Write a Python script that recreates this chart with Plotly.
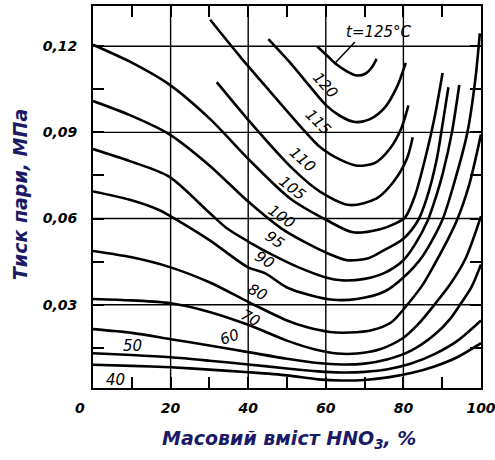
import plotly.graph_objects as go

# ---- data (mass % HNO3 vs vapour pressure, MPa) ----
temps = ["125", "120", "115", "110", "105", "100", "95", "90", "80", "70", "60", "50", "40"]

x125 = [57.8, 60.5, 62.8, 65.5, 68.0, 70.3, 71.8, 73.1]
p125 = [0.1199, 0.1165, 0.1136, 0.1112, 0.1098, 0.1105, 0.1125, 0.1156]

x120 = [45.2, 50.8, 55.9, 60.1, 63.7, 67.5, 71.4, 75.3, 78.4, 80.6]
p120 = [0.1225, 0.1143, 0.1060, 0.0994, 0.0957, 0.0936, 0.0946, 0.0988, 0.1060, 0.1142]

x115 = [30.2, 37.9, 45.6, 53.4, 58.5, 63.7, 68.0, 72.7, 76.5, 79.4, 81.3]
p115 = [0.1292, 0.1164, 0.1043, 0.0922, 0.0849, 0.0805, 0.0784, 0.0794, 0.0843, 0.0912, 0.0994]

x110 = [31.9, 40.5, 51.5, 58.5, 66.2, 73.1, 77.4, 80.9, 82.4]
p110 = [0.1075, 0.0936, 0.0773, 0.0694, 0.0647, 0.0670, 0.0727, 0.0808, 0.0883]

x105 = [0, 9.5, 19.6, 30.2, 40, 50.8, 60.3, 67, 74, 78, 80.5, 83, 86, 88, 90.1]
p105 = [0.1205, 0.1146, 0.1067, 0.0946, 0.0808, 0.0670, 0.0594, 0.0552, 0.0563, 0.0583, 0.0605, 0.0680, 0.0830, 0.0950, 0.1107]

x100 = [0, 9.5, 19.6, 30, 40, 48.6, 55, 60.3, 65.5, 71, 75, 80, 83.8, 86, 88.5, 90, 91.6]
p100 = [0.1009, 0.0960, 0.0894, 0.0785, 0.0659, 0.0565, 0.0515, 0.0480, 0.0455, 0.0462, 0.0490, 0.0530, 0.0594, 0.0670, 0.0800, 0.0920, 0.1057]

x95 = [0, 9.5, 19.6, 30, 34.5, 40, 46.9, 53, 60, 64, 70, 75, 80, 83, 86.3, 88.5, 90.2, 92.5, 94.4]
p95 = [0.0842, 0.0800, 0.0746, 0.0620, 0.0566, 0.0520, 0.0469, 0.0430, 0.0395, 0.0385, 0.0390, 0.0410, 0.0455, 0.0510, 0.0594, 0.0680, 0.0760, 0.0900, 0.1065]

x90 = [0, 9.5, 17.3, 19.6, 30, 40, 44.3, 50, 56, 61.9, 68, 75, 80, 85, 90, 93, 96.5, 98.5, 99.7]
p90 = [0.0694, 0.0665, 0.0628, 0.0611, 0.0525, 0.0430, 0.0410, 0.0360, 0.0333, 0.0317, 0.0320, 0.0345, 0.0395, 0.0470, 0.0594, 0.0720, 0.0900, 0.1080, 0.1245]

x80 = [0, 10, 20, 30, 40, 50, 55, 61, 66, 72, 77, 81, 85, 88, 91, 93.8, 97, 100]
p80 = [0.0487, 0.0465, 0.0430, 0.0378, 0.0310, 0.0245, 0.0222, 0.0205, 0.0203, 0.0212, 0.0240, 0.0300, 0.0370, 0.0440, 0.0515, 0.0594, 0.0720, 0.0893]

x70 = [0, 10, 20, 30, 40, 50, 57, 63, 68, 74, 80, 84, 88, 92, 96, 100]
p70 = [0.0320, 0.0315, 0.0305, 0.0275, 0.0230, 0.0175, 0.0145, 0.0130, 0.0130, 0.0145, 0.0185, 0.0235, 0.0300, 0.0370, 0.0460, 0.0608]

x60 = [0, 10, 20, 30, 40, 50, 58, 64, 70, 76, 82, 88, 92, 94.6, 97.5, 100]
p60 = [0.0215, 0.0202, 0.0180, 0.0158, 0.0135, 0.0112, 0.0097, 0.0092, 0.0095, 0.0110, 0.0140, 0.0195, 0.0250, 0.0300, 0.0360, 0.0440]

x50 = [0, 10, 20, 30, 40, 50, 58, 64, 70, 76, 82, 88, 94, 100]
p50 = [0.0131, 0.0125, 0.0117, 0.0105, 0.0092, 0.0078, 0.0068, 0.0064, 0.0066, 0.0075, 0.0095, 0.0128, 0.0175, 0.0245]

x40 = [0, 10, 20, 30, 40, 50, 58, 64, 70, 76, 82, 88, 94, 100]
p40 = [0.0091, 0.0087, 0.0082, 0.0074, 0.0065, 0.0054, 0.0040, 0.0036, 0.0038, 0.0047, 0.0062, 0.0085, 0.0118, 0.0166]

series = {
    "125": (x125, p125), "120": (x120, p120), "115": (x115, p115), "110": (x110, p110),
    "105": (x105, p105), "100": (x100, p100), "95": (x95, p95), "90": (x90, p90),
    "80": (x80, p80), "70": (x70, p70), "60": (x60, p60), "50": (x50, p50), "40": (x40, p40),
}

# curve labels: text, x, p, angle
label_text = ["t=125°C", "120", "115", "110", "105", "100", "95", "90", "80", "70", "60", "50", "40"]
label_x = [73.7, 59.8, 58.0, 54.1, 51.3, 48.7, 46.9, 44.3, 42.3, 40.5, 35.3, 10.3, 5.9]
label_p = [0.1249, 0.1065, 0.0936, 0.0804, 0.0706, 0.0605, 0.0525, 0.0456, 0.0344, 0.0254, 0.0188, 0.0156, 0.0038]
label_angle = [0, 48, 45, 42, 38, 35, 35, 32, 28, 28, -20, 0, 0]

# axis ticks (every tick drawn inside; only the labelled ones carry text)
x_tickvals = [10, 20, 30, 40, 50, 60, 70, 80, 90, 100]
x_ticktext = ["", "20", "", "40", "", "60", "", "80", "", "100"]
y_tickvals = [0.015, 0.03, 0.045, 0.06, 0.075, 0.09, 0.105, 0.12]
y_ticktext = ["", "0,03", "", "0,06", "", "0,09", "", "0,12"]
x_grid = [20, 40, 60, 80]
y_grid = [0.03, 0.06, 0.09, 0.12]

fig = go.Figure()

# grid lines (drawn below the curves)
grid_line = dict(color="black", width=1.4)
for xv in x_grid:
    fig.add_shape(type="line", xref="x", x0=xv, x1=xv, yref="paper", y0=0, y1=1,
                  line=grid_line, layer="below")
for yv in y_grid:
    fig.add_shape(type="line", yref="y", y0=yv, y1=yv, xref="paper", x0=0, x1=1,
                  line=grid_line, layer="below")

for t in temps:
    xs, ps = series[t]
    fig.add_trace(go.Scatter(x=xs, y=ps, mode="lines", name=t,
                             line=dict(color="black", width=2.6, shape="spline", smoothing=0.8),
                             hoverinfo="skip", showlegend=False))

lab_font = dict(family="DejaVu Sans", size=15, color="black", style="italic")
for txt, lx, lp, ang in zip(label_text, label_x, label_p, label_angle):
    fig.add_annotation(x=lx, y=lp, xref="x", yref="y", text=txt, showarrow=False,
                       textangle=ang, font=lab_font)

# leader line for t=125 label
fig.add_shape(type="line", xref="x", yref="y", x0=67.5, y0=0.1215, x1=62.3, y1=0.1140,
              line=dict(color="black", width=1.5))

tick_font = dict(family="DejaVu Sans", size=14, color="black", style="italic", weight="bold")

# origin label
fig.add_annotation(x=0, y=0, xref="x", yref="paper", text="0", showarrow=False,
                   xanchor="center", yanchor="top", xshift=-13, yshift=-10, font=tick_font)

title_font = dict(family="DejaVu Sans", size=19, color="#1a1a66", style="italic", weight="bold")
fig.add_annotation(x=0.505, y=-0.136, xref="paper", yref="paper", xanchor="center", yanchor="middle",
                   text="Масовий вміст HNO<sub>3</sub>, %", showarrow=False, font=title_font)
fig.add_annotation(x=-0.188, y=0.505, xref="paper", yref="paper", xanchor="center", yanchor="middle",
                   text="Тиск пари, МПа", showarrow=False, textangle=-90, font=title_font)

fig.update_xaxes(range=[0, 100], tickvals=x_tickvals, ticktext=x_ticktext,
                 ticks="inside", ticklen=11, tickwidth=1.8, tickcolor="black",
                 showgrid=False, automargin=False,
                 showline=True, linecolor="black", linewidth=2,
                 mirror="ticks", zeroline=False, tickfont=tick_font, ticklabelstandoff=6,
                 ticklabeloverflow="allow")
fig.update_yaxes(range=[0.0010, 0.1340], tickvals=y_tickvals, ticktext=y_ticktext,
                 ticks="inside", ticklen=11, tickwidth=1.8, tickcolor="black",
                 showgrid=False, automargin=False,
                 showline=True, linecolor="black", linewidth=2,
                 mirror="ticks", zeroline=False, tickfont=tick_font, ticklabelstandoff=11,
                 ticklabeloverflow="allow")

fig.update_layout(width=495, height=460, margin=dict(l=93, r=14, t=6, b=72, autoexpand=False),
                  plot_bgcolor="white", paper_bgcolor="white", separators=", ",
                  showlegend=False)

fig.write_html("out.html")
